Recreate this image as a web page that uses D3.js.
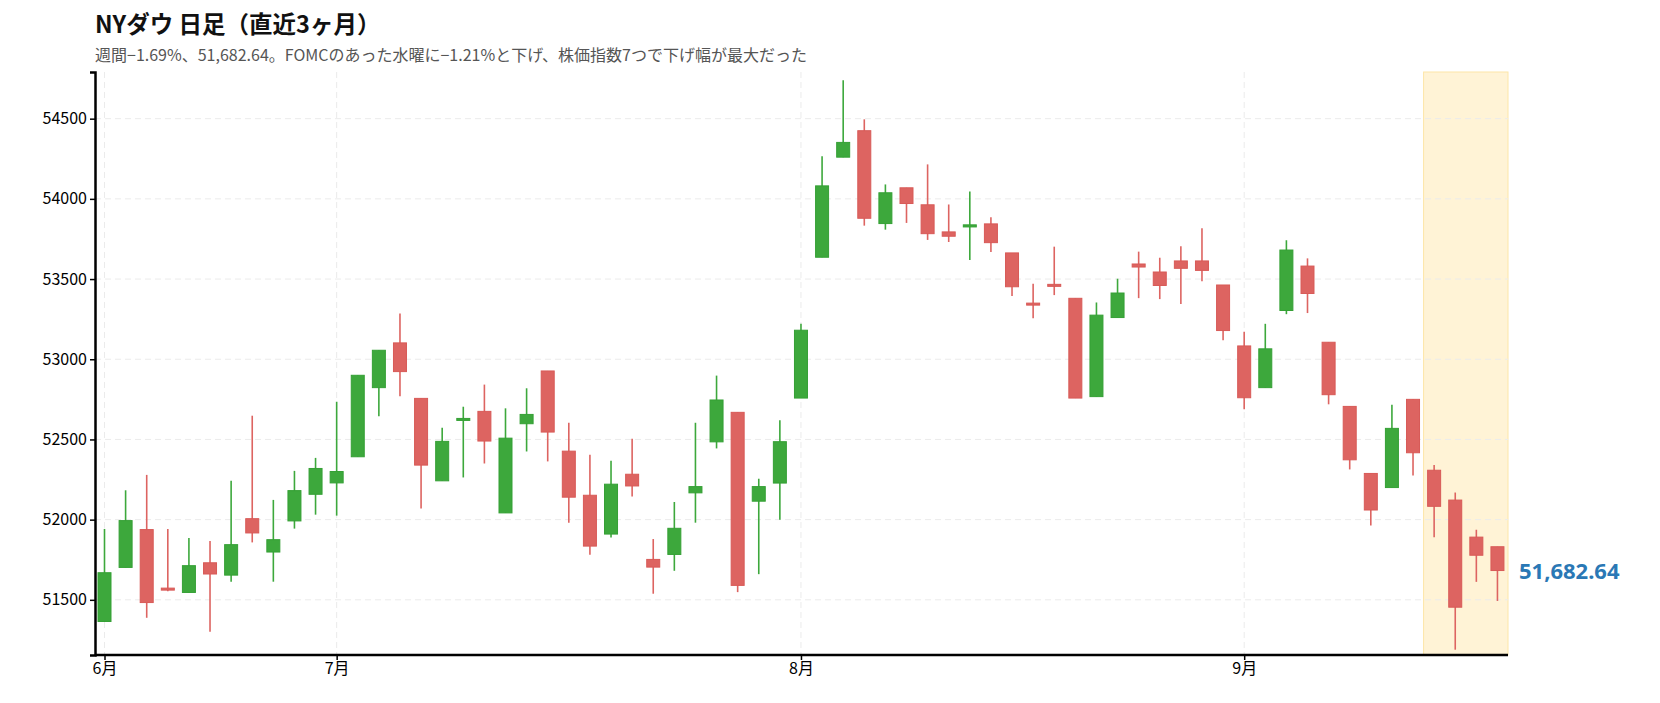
<!DOCTYPE html>
<html><head><meta charset="utf-8">
<script src="https://cdn.jsdelivr.net/npm/d3@7"></script>
<style>body{margin:0;background:#fff;font-family:"Noto Sans CJK JP","Noto Sans",sans-serif}</style>
</head><body><svg id="c" width="1660" height="703"></svg>
<script>
const opens  = [51365,51702,51938,51573,51546,51731,51654,52006,51798,51992,52158,52229,52392,52823,53102,52756,52242,52619,52675,52042,52598,52927,52427,52152,51910,52283,51752,51783,52167,52485,52669,52115,52228,52758,53636,54260,54425,53846,54069,53963,53794,53825,53844,53663,53350,53467,53380,52767,53260,53594,53544,53613,53613,53463,53083,52823,53304,53581,53106,52706,52288,52200,52750,52308,52122,51891,51831];
const highs  = [51942,52183,52279,51942,51886,51867,52242,52648,52123,52304,52385,52735,52900,53056,53285,52756,52573,52704,52842,52694,52819,52927,52604,52404,52367,52504,51879,52110,52604,52898,52669,52255,52619,53221,54265,54740,54496,54090,54069,54215,53965,54046,53885,53663,53471,53702,53380,53354,53502,53671,53633,53704,53817,53463,53171,53221,53742,53629,53106,52706,52288,52717,52750,52341,52169,51937,51831];
const lows   = [51365,51702,51388,51553,51546,51301,51613,51858,51613,51944,52031,52025,52392,52644,52769,52069,52242,52263,52350,52042,52425,52363,51981,51781,51888,52144,51538,51681,51981,52444,51548,51660,52000,52758,53636,54260,53833,53808,53850,53744,53731,53619,53669,53394,53256,53400,52758,52767,53260,53381,53375,53344,53487,53119,52688,52823,53281,53288,52719,52313,51963,52200,52275,51890,51189,51612,51493];
const closes = [51669,51994,51483,51561,51713,51661,51844,51917,51875,52181,52319,52300,52900,53056,52923,52340,52488,52631,52490,52508,52656,52546,52140,51835,52221,52210,51704,51946,52206,52746,51590,52206,52486,53181,54081,54352,53879,54038,53971,53783,53767,53838,53727,53452,53342,53458,52758,53275,53413,53575,53460,53567,53554,53179,52760,53065,53681,53410,52779,52373,52060,52569,52417,52083,51454,51778,51682.64];
const monthTickIdx = [0,11,33,54];
const monthLabels = ["6月","7月","8月","9月"];
const yTicks = [51500,52000,52500,53000,53500,54000,54500];
const highlightStart = 62.5;
const title = "NYダウ 日足（直近3ヶ月）";
const subtitle = "週間−1.69%、51,682.64。FOMCのあった水曜に−1.21%と下げ、株価指数7つで下げ幅が最大だった";
const lastLabel = "51,682.64";

const svg = d3.select("#c");
const L=95,R=1508,T=72,B=655;
const x = d3.scaleLinear().domain([-0.45, opens.length-0.5]).range([L,R]);
const y = d3.scaleLinear().domain([51156,54791]).range([B,T]);
const up="#3da83c", dn="#dd6461";

svg.append("rect").attr("x",x(highlightStart)).attr("y",T).attr("width",R-x(highlightStart)).attr("height",B-T)
  .attr("fill","#fff3d6").attr("stroke","#fde6a8").attr("stroke-width",1);

const g = svg.append("g");
g.selectAll(".hg").data(yTicks).join("line").attr("x1",L).attr("x2",R).attr("y1",d=>y(d)).attr("y2",d=>y(d))
  .attr("stroke","#ebebeb").attr("stroke-dasharray","6,4");
g.selectAll(".vg").data(monthTickIdx).join("line").attr("x1",d=>x(d)).attr("x2",d=>x(d)).attr("y1",T).attr("y2",B)
  .attr("stroke","#ebebeb").attr("stroke-dasharray","6,4");

const idx = d3.range(opens.length);
const c = svg.append("g");
c.selectAll(".w").data(idx).join("line")
  .attr("x1",i=>x(i)).attr("x2",i=>x(i)).attr("y1",i=>y(highs[i])).attr("y2",i=>y(lows[i]))
  .attr("stroke",i=>closes[i]>=opens[i]?up:dn).attr("stroke-width",1.6);
c.selectAll(".b").data(idx).join("rect")
  .attr("x",i=>x(i)-6.5).attr("width",13)
  .attr("y",i=>y(Math.max(opens[i],closes[i])))
  .attr("height",i=>Math.max(2,Math.abs(y(opens[i])-y(closes[i]))))
  .attr("fill",i=>closes[i]>=opens[i]?up:dn)
  .attr("stroke",i=>closes[i]>=opens[i]?"#35a035":"#d85a57").attr("stroke-width",1);

const ya = svg.append("g").attr("transform",`translate(${L},0)`)
  .call(d3.axisLeft(y).tickValues(yTicks).tickFormat(d3.format("d")).tickSizeOuter(0).tickSize(5));
ya.select(".domain").attr("stroke","#000").attr("stroke-width",2.5);
ya.selectAll("text").attr("font-size",16).attr("fill","#000").attr("font-family","Noto Sans CJK JP");
ya.selectAll(".tick line").attr("stroke-width",1.5);
const xa = svg.append("g").attr("transform",`translate(0,${B})`)
  .call(d3.axisBottom(x).tickValues(monthTickIdx).tickFormat((d,i)=>monthLabels[i]).tickSizeOuter(0).tickSize(5));
xa.select(".domain").attr("stroke","#000").attr("stroke-width",2.5).attr("d",`M${L},0H${R}`);
xa.selectAll("text").attr("font-size",16).attr("fill","#000").attr("font-family","Noto Sans CJK JP");
xa.selectAll(".tick line").attr("stroke-width",1.5);

svg.append("text").attr("x",95).attr("y",33).text(title).attr("font-size",23.5).attr("font-weight","bold").attr("fill","#111");
svg.append("text").attr("x",95).attr("y",61).text(subtitle).attr("font-size",16).attr("fill","#555");
const li = opens.length-1;
svg.append("text").attr("x",1519).attr("y",y(closes[li])+8).text(lastLabel)
  .attr("font-size",22).attr("font-weight","bold").attr("fill","#2a78b5").attr("font-family","Noto Sans");
</script></body></html>
